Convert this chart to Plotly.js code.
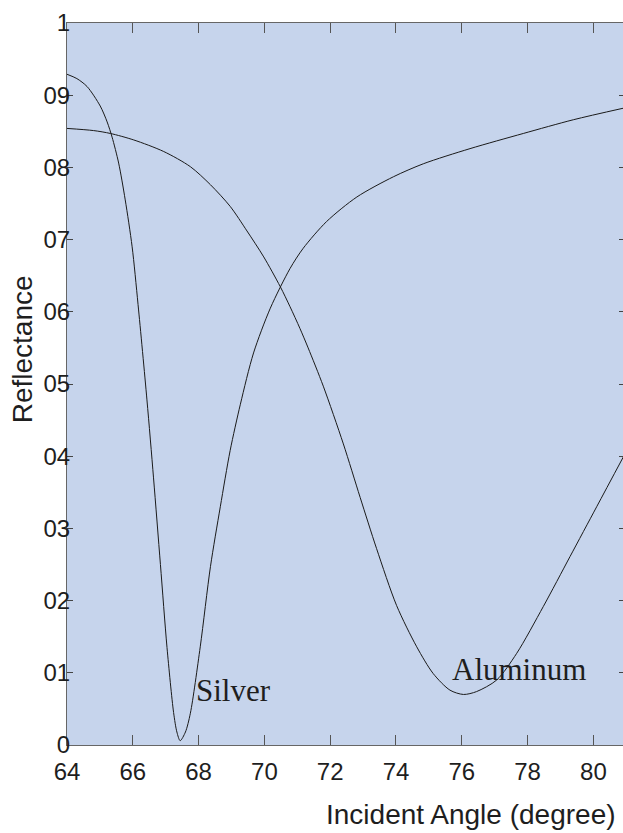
<!DOCTYPE html>
<html>
<head>
<meta charset="utf-8">
<script src="https://cdn.plot.ly/plotly-3.0.1.min.js"></script>
<style>html,body{margin:0;padding:0;background:#fff;}#chart{width:623px;height:833px;}</style>
</head>
<body>
<div id="chart"></div>
<script>
// Silver reflectance curve
const silverAngle = [64, 64.3, 64.61, 65.01, 65.22, 65.37, 65.57, 65.77, 65.98, 66.16, 66.43, 66.63, 66.84, 67.04, 67.24, 67.34, 67.44, 67.6, 67.75, 68.05, 68.36, 68.66, 68.96, 69.27, 69.67, 70.18, 70.78, 71.18, 71.89, 72.81, 73.92, 74.83, 76.25, 77.87, 79.39, 80.91];
const silverRefl  = [0.929, 0.923, 0.912, 0.885, 0.863, 0.842, 0.806, 0.755, 0.69, 0.61, 0.478, 0.37, 0.25, 0.135, 0.045, 0.018, 0.006, 0.018, 0.044, 0.136, 0.247, 0.33, 0.408, 0.472, 0.543, 0.605, 0.66, 0.688, 0.725, 0.759, 0.787, 0.805, 0.826, 0.847, 0.866, 0.882];
// Aluminum reflectance curve
const aluminumAngle = [64, 64.81, 65.32, 66.03, 66.94, 67.75, 68.36, 68.96, 69.47, 69.98, 70.48, 70.78, 71.08, 71.33, 71.79, 72.40, 72.91, 73.41, 74.02, 74.63, 75.13, 75.64, 76.05, 76.45, 77.06, 77.67, 78.48, 79.29, 80.10, 80.91];
const aluminumRefl  = [0.854, 0.851, 0.847, 0.838, 0.822, 0.801, 0.776, 0.746, 0.712, 0.676, 0.635, 0.607, 0.577, 0.55, 0.497, 0.417, 0.343, 0.272, 0.193, 0.136, 0.099, 0.076, 0.07, 0.074, 0.09, 0.127, 0.192, 0.261, 0.33, 0.399];

const xTickVals = [64, 66, 68, 70, 72, 74, 76, 78, 80];
const xTickText = ["64", "66", "68", "70", "72", "74", "76", "78", "80"];
const yTickVals = [0, 0.1, 0.2, 0.3, 0.4, 0.5, 0.6, 0.7, 0.8, 0.9, 1];
const yTickText = ["0", "01", "02", "03", "04", "05", "06", "07", "08", "09", "1"];

const seriesNames = ["Silver", "Aluminum"];
const labelPos = {Silver: [67.87, 0.075], Aluminum: [75.64, 0.105]};

const lineStyle = {color: '#1a1a1a', width: 1, shape: 'spline', smoothing: 0.8};
const traces = [
  {x: silverAngle, y: silverRefl, type: 'scatter', mode: 'lines', line: lineStyle, name: 'Silver', hoverinfo: 'skip'},
  {x: aluminumAngle, y: aluminumRefl, type: 'scatter', mode: 'lines', line: lineStyle, name: 'Aluminum', hoverinfo: 'skip'},
  {x: [], y: [], type: 'scatter', mode: 'lines', yaxis: 'y2', showlegend: false}
];

const tickFont = {family: 'Liberation Sans, Arial, sans-serif', size: 24, color: '#1e1e1e'};
const layout = {
  width: 623, height: 833,
  margin: {l: 67, r: 0, t: 23, b: 88},
  paper_bgcolor: '#ffffff',
  plot_bgcolor: '#c6d4ec',
  showlegend: false,
  xaxis: {
    range: [64, 80.9], tickvals: xTickVals, ticktext: xTickText,
    ticks: 'inside', ticklen: 10, tickwidth: 1, tickcolor: '#555',
    showline: true, linecolor: '#666', linewidth: 1, mirror: 'ticks',
    showgrid: false, zeroline: false, tickfont: tickFont, ticklabelstandoff: 5
  },
  yaxis: {
    range: [0, 1], tickvals: yTickVals, ticktext: yTickText,
    ticks: 'inside', ticklen: 6, tickwidth: 1, tickcolor: '#444',
    showline: true, linecolor: '#666', linewidth: 1, mirror: false,
    showgrid: false, zeroline: false, tickfont: tickFont, ticklabelstandoff: -9
  },
  yaxis2: {
    range: [0, 1], overlaying: 'y', side: 'right', tickvals: yTickVals,
    showticklabels: false, ticks: 'inside', ticklen: 4, tickcolor: '#444',
    showline: false, showgrid: false, zeroline: false
  },
  annotations: [
    ...seriesNames.map(n => ({
      x: labelPos[n][0], y: labelPos[n][1], xref: 'x', yref: 'y',
      text: n, showarrow: false, xanchor: 'left', yanchor: 'middle',
      font: {family: 'Liberation Serif, Times New Roman, serif', size: 31, color: '#1e1e1e'}
    })),
    {x: -0.081, y: 0.548, xref: 'paper', yref: 'paper', text: 'Reflectance', textangle: -90,
     showarrow: false, xanchor: 'center', yanchor: 'middle',
     font: {family: 'Liberation Sans, Arial, sans-serif', size: 28, color: '#1e1e1e'}},
    {x: 0.7275, y: -0.0956, xref: 'paper', yref: 'paper', text: 'Incident Angle (degree)',
     showarrow: false, xanchor: 'center', yanchor: 'middle',
     font: {family: 'Liberation Sans, Arial, sans-serif', size: 28, color: '#1e1e1e'}}
  ]
};

Plotly.newPlot('chart', traces, layout, {staticPlot: true, displayModeBar: false});
</script>
</body>
</html>
